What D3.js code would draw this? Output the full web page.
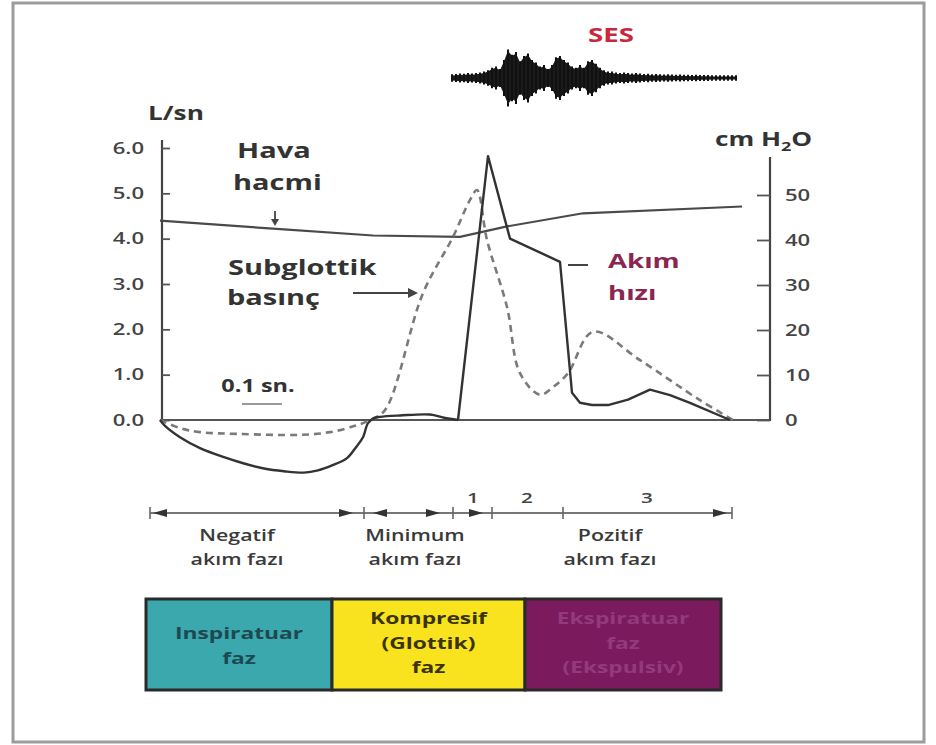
<!DOCTYPE html>
<html><head><meta charset="utf-8">
<script src="https://cdn.jsdelivr.net/npm/d3@7"></script>
<style>
body{margin:0;background:#fff}
svg{display:block}
text{font-family:"Open Sans",sans-serif}
</style>
</head><body>
<svg id="c" width="936" height="745"></svg>
<script>
// ---------------- DATA ----------------
// Akım hızı (flow, L/sn) vs time (s)
const flowTime   = [0, 0.0125, 0.05, 0.10, 0.16, 0.21, 0.26, 0.31, 0.36, 0.395, 0.43, 0.4675, 0.49, 0.5075, 0.52, 0.535, 0.55, 0.60, 0.675, 0.71, 0.745, 0.82, 0.875, 1.00, 1.03, 1.05, 1.08, 1.12, 1.17, 1.225, 1.275, 1.325, 1.425];
const flowValues = [0, -0.13, -0.38, -0.62, -0.82, -0.96, -1.07, -1.13, -1.16, -1.11, -1.0, -0.84, -0.6, -0.38, -0.07, 0.04, 0.07, 0.10, 0.12, 0.05, 0, 5.82, 4.0, 3.49, 0.6, 0.38, 0.33, 0.33, 0.45, 0.67, 0.55, 0.38, 0];
// Subglottik basınç (cm H2O) vs time (s)
const pressureTime   = [0, 0.05, 0.10, 0.20, 0.35, 0.425, 0.4875, 0.525, 0.5625, 0.6575, 0.7325, 0.775, 0.7925, 0.8175, 0.8675, 0.90, 0.95, 0.9825, 1.02, 1.0825, 1.20, 1.35, 1.4325];
const pressureValues = [0, -1.8, -2.7, -3.1, -3.3, -2.7, -1.3, 0, 2.2, 28.2, 40.7, 48.9, 51.1, 40, 25.1, 10.4, 5.6, 7.3, 10.4, 19.6, 13.3, 4.4, 0];
// Hava hacmi (L) vs time (s)
const volumeTime   = [0, 0.2825, 0.5325, 0.75, 0.8675, 1.0575, 1.455];
const volumeValues = [4.4, 4.22, 4.07, 4.04, 4.27, 4.56, 4.71];
// Axes
const leftTicks  = [0, 1, 2, 3, 4, 5, 6];
const rightTicks = [0, 10, 20, 30, 40, 50];
// SES waveform envelope (relative amplitude), sampled every 0.01 s from 0.73 s
const sesStart = 0.73, sesStep = 0.01;
const sesAmplitude = [0.05,0.06,0.08,0.07,0.1,0.08,0.1,0.12,
  0.15,0.2,0.3,0.35,0.25,
  0.6,1.0,0.8,0.9,0.55,
  0.75,0.85,0.6,0.5,0.35,0.4,0.25,
  0.4,0.7,0.75,0.6,0.5,0.35,0.3,0.4,0.3,
  0.55,0.6,0.45,0.3,0.2,0.15,
  0.15,0.12,0.1,0.12,0.1,0.08,0.1,0.08,0.06,0.07,0.05,0.06,0.05,0.04,0.05,0.04,0.03,0.04,0.03,0.03,0.02,0.03,0.02,0.02,0.02,0.01,0.01,0.01,0.01,0.01,0.01,0.01];
// Phase timeline
const phaseNames   = [["Negatif","akım fazı"],["Minimum","akım fazı"],["Pozitif","akım fazı"]];
const phaseCenters = [0.1925, 0.6375, 1.125];
const phaseTicks   = [-0.025, 0.51, 0.7325, 0.83, 1.0075, 1.43];
const subPhaseLabels  = ["1","2","3"];
const subPhaseCenters = [0.7825, 0.9175, 1.2175];
const arrowTips = [-0.0175, 0.4825, 0.5325, 0.70, 0.8075, 1.4175];
const arrowDirs = [-1, 1, -1, 1, 1, 1];
// Phase boxes
const boxNames  = [["Inspiratuar","faz"],["Kompresif","(Glottik)","faz"],["Ekspiratuar","faz","(Ekspulsiv)"]];
const boxEdges  = [-0.035, 0.43, 0.9125, 1.4025];
const boxColors = ["#3aa8ad", "#f8e31e", "#7b1b5d"];
const boxText   = ["#1e4852", "#3a3308", "#94397c"];

// ---------------- DRAW ----------------
const SX = 1.38; // horizontal stretch of the lettering
const svg = d3.select("#c");
svg.append("rect").attr("x",13).attr("y",3).attr("width",911).attr("height",739)
  .attr("fill","#fff").attr("stroke","#9c9c9c").attr("stroke-width",3);

const x  = d3.scaleLinear().domain([0, 1.525]).range([160, 770]);
const yL = d3.scaleLinear().domain([0, 6]).range([420, 148]);
const yR = d3.scaleLinear().domain([0, 50]).range([420, 195]);

function stext(g, px, py, str, o) {
  o = o || {};
  return g.append("text")
    .attr("transform", `translate(${px},${py}) scale(${o.sx || SX},1)`)
    .attr("text-anchor", o.anchor || "start")
    .style("font-size", (o.size || 20) + "px")
    .style("font-weight", o.weight || 700)
    .attr("fill", o.color || "#333")
    .text(str);
}

const g = svg.append("g");

// baseline
g.append("line").attr("x1", x(0)).attr("x2", x(1.525)).attr("y1", yL(0)).attr("y2", yL(0))
  .attr("stroke","#555").attr("stroke-width",2.2);

// left axis
g.append("line").attr("x1", 162).attr("x2", 162).attr("y1", 140).attr("y2", 421)
  .attr("stroke","#444").attr("stroke-width",2.2);
const la = g.append("g").attr("transform","translate(162,0)")
  .call(d3.axisLeft(yL).tickValues(leftTicks).tickFormat(d3.format(".1f"))
        .tickSize(-8).tickSizeOuter(0).tickPadding(18 / SX));
la.select(".domain").remove();
la.selectAll(".tick line").attr("stroke","#555").attr("stroke-width",1.8);
la.selectAll(".tick text").attr("transform",`scale(${SX},1)`)
  .style("font-size","16px").style("font-weight",600).attr("fill","#444")
  .style("font-family",'"Open Sans",sans-serif');

// right axis
g.append("line").attr("x1", 770).attr("x2", 770).attr("y1", 157).attr("y2", 421)
  .attr("stroke","#444").attr("stroke-width",2.2);
const ra = g.append("g").attr("transform","translate(770,0)")
  .call(d3.axisRight(yR).tickValues(rightTicks).tickFormat(d3.format("d"))
        .tickSize(-13).tickSizeOuter(0).tickPadding(15 / SX));
ra.select(".domain").remove();
ra.selectAll(".tick line").attr("stroke","#555").attr("stroke-width",1.8);
ra.selectAll(".tick text").attr("transform",`scale(${SX},1)`)
  .style("font-size","16px").style("font-weight",600).attr("fill","#444")
  .style("font-family",'"Open Sans",sans-serif');

// axis titles
stext(g, 148, 120, "L/sn", {size: 19});
const ct = stext(g, 715, 146, "cm H", {size: 19});
ct.append("tspan").attr("dy", 5).style("font-size","13px").text("2");
ct.append("tspan").attr("dy", -5).text("O");

// volume line
const volLine = d3.line().x((d,i) => x(volumeTime[i])).y(d => yL(d));
g.append("path").attr("d", volLine(volumeValues)).attr("fill","none")
  .attr("stroke","#4a4a4a").attr("stroke-width",2.2);

// pressure dashed
const presLine = d3.line().x((d,i) => x(pressureTime[i])).y(d => yR(d)).curve(d3.curveCatmullRom.alpha(0.5));
g.append("path").attr("d", presLine(pressureValues)).attr("fill","none")
  .attr("stroke","#7a7a7a").attr("stroke-width",2.6).attr("stroke-dasharray","7,5");

// flow solid: smooth negative lobe, sharp-cornered positive part
const flowPts = flowValues.map((v,i) => [flowTime[i], v]);
const splitAt = 20; // index where flow returns to 0 before the rapid rise
const flowSmooth = d3.line().x(d => x(d[0])).y(d => yL(d[1])).curve(d3.curveCatmullRom.alpha(0.5));
const flowSharp  = d3.line().x(d => x(d[0])).y(d => yL(d[1]));
g.append("path").attr("d", flowSmooth(flowPts.slice(0, splitAt + 1))).attr("fill","none")
  .attr("stroke","#333").attr("stroke-width",2.4);
g.append("path").attr("d", flowSharp(flowPts.slice(splitAt))).attr("fill","none")
  .attr("stroke","#333").attr("stroke-width",2.4).attr("stroke-linejoin","round");

// annotations
stext(g, 237, 158, "Hava", {size: 21});
stext(g, 233, 190, "hacmi", {size: 21});
g.append("line").attr("x1",275).attr("x2",275).attr("y1",211).attr("y2",222).attr("stroke","#444").attr("stroke-width",1.8);
g.append("path").attr("d","M271,219 L279,219 L275,226 Z").attr("fill","#444");

stext(g, 228, 275, "Subglottik", {size: 21});
stext(g, 227, 305, "basınç", {size: 21});
g.append("line").attr("x1",353).attr("x2",410).attr("y1",293).attr("y2",293).attr("stroke","#444").attr("stroke-width",2.2);
g.append("path").attr("d","M408,288 L418,293 L408,298 Z").attr("fill","#444");

stext(g, 608, 268, "Akım", {size: 20, color: "#8a2652"});
stext(g, 608, 300, "hızı", {size: 20, color: "#8a2652"});
g.append("line").attr("x1",568).attr("x2",588).attr("y1",265).attr("y2",265).attr("stroke","#444").attr("stroke-width",2);

// 0.1 sn scale bar
stext(g, 258, 392, "0.1 sn.", {size: 17, anchor: "middle"});
g.append("line").attr("x1", x(0.205)).attr("x2", x(0.305)).attr("y1",404).attr("y2",404)
  .attr("stroke","#999").attr("stroke-width",2);

// SES waveform
stext(g, 588, 42, "SES", {size: 20, color: "#c8283a"});
const sy = 78, sAmp = d3.scaleLinear().domain([0,1]).range([0,26]);
const sesArea = d3.area().x((d,i) => x(sesStart + i*sesStep)).y0(d => sy + sAmp(d)*0.95 + 1.2).y1(d => sy - sAmp(d) - 1.2);
g.append("path").attr("d", sesArea(sesAmplitude)).attr("fill","#1a1a1a");
g.selectAll(".ses").data(sesAmplitude).join("line")
  .attr("x1",(d,i) => x(sesStart + i*sesStep)).attr("x2",(d,i) => x(sesStart + i*sesStep))
  .attr("y1", d => sy - sAmp(d) - 2.5).attr("y2", d => sy + sAmp(d) + 2.5)
  .attr("stroke","#111").attr("stroke-width",2);

// phase timeline
const ty = 513;
g.append("line").attr("x1", x(phaseTicks[0])).attr("x2", x(phaseTicks[phaseTicks.length-1]))
  .attr("y1", ty).attr("y2", ty).attr("stroke","#777").attr("stroke-width",2.2);
g.selectAll(".ptick").data(phaseTicks).join("line")
  .attr("x1", d => x(d)).attr("x2", d => x(d)).attr("y1", ty-6).attr("y2", ty+6)
  .attr("stroke","#666").attr("stroke-width",1.6);
g.selectAll(".parrow").data(arrowTips).join("path")
  .attr("d", (d,i) => { const t = x(d), s = arrowDirs[i];
    return `M${t},${ty} L${t - s*14},${ty-4} L${t - s*14},${ty+4} Z`; })
  .attr("fill","#333");
subPhaseLabels.forEach((s,i) => stext(g, x(subPhaseCenters[i]), 503, s, {size: 15, anchor: "middle", weight: 600, color: "#444"}));
phaseNames.forEach((lines,i) => lines.forEach((s,j) =>
  stext(g, x(phaseCenters[i]), 541 + j*24, s, {size: 15.5, anchor: "middle", weight: 600, color: "#3a3a3a"})));

// phase boxes
const by = 599, bh = 91;
boxNames.forEach((lines,i) => {
  const x0 = x(boxEdges[i]), x1 = x(boxEdges[i+1]);
  g.append("rect").attr("x", x0).attr("y", by).attr("width", x1 - x0).attr("height", bh)
    .attr("fill", boxColors[i]).attr("stroke","#2a2a2a").attr("stroke-width",3);
  const n = lines.length, cx = (x0 + x1) / 2;
  const start = n === 2 ? 639 : 624;
  lines.forEach((s,j) => stext(g, cx, start + j*24.5, s, {size: 16.5, anchor: "middle", color: boxText[i]}));
});
</script>
</body></html>
